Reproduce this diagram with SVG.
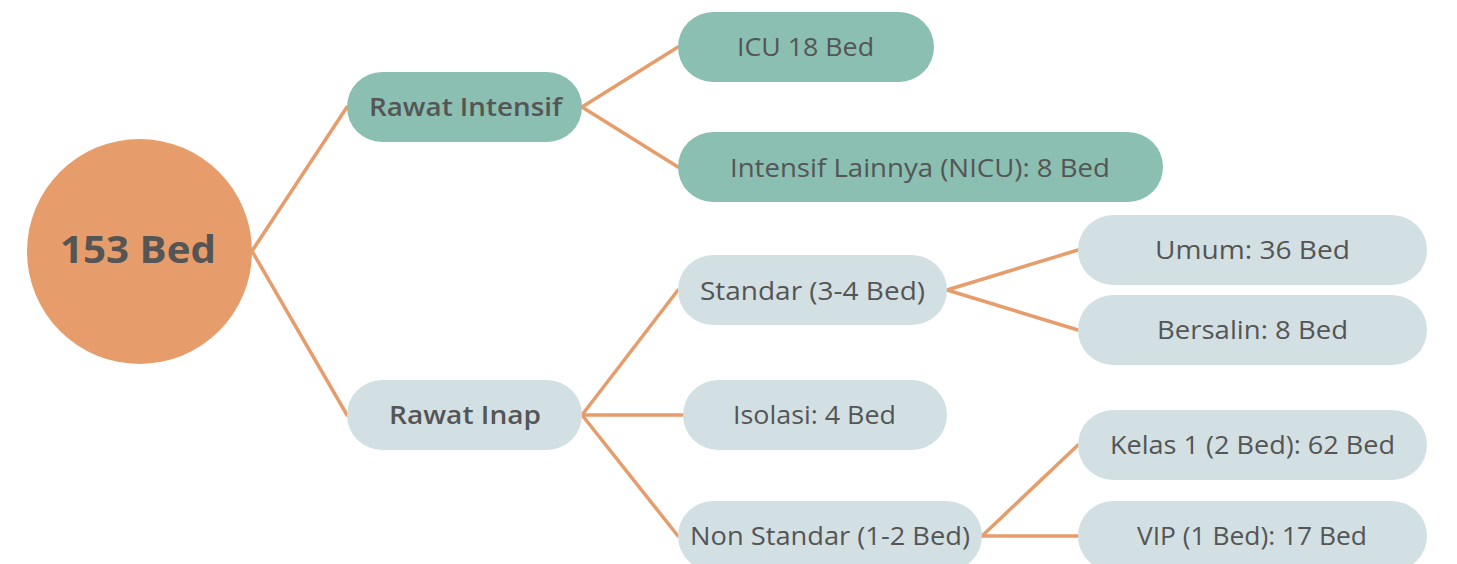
<svg xmlns="http://www.w3.org/2000/svg" width="1457" height="564" viewBox="0 0 1457 564">
<style>
.t{font-family:"Open Sans","DejaVu Sans",sans-serif;font-size:25px;fill:#555555;text-anchor:middle}
.b{font-weight:700}
.sb{font-weight:600}
.teal{fill:#8ABFB2}
.grey{fill:#D3E0E3}
.conn{stroke:#E69D6B;stroke-width:3.5;fill:none;stroke-linecap:round}
</style>
<rect width="1457" height="564" fill="#FFFFFF"/>
<g id="connectors" class="conn">
<path d="M252,251 L347,107"/>
<path d="M252,251 L347,415"/>
<path d="M582,107 L678,47"/>
<path d="M582,107 L678,167"/>
<path d="M582,415 L678,290"/>
<path d="M582,415 L683,415"/>
<path d="M582,415 L678,536"/>
<path d="M947,290 L1078,250"/>
<path d="M947,290 L1078,330"/>
<path d="M982,536 L1078,445"/>
<path d="M982,536 L1078,536"/>
</g>
<g id="root">
<circle cx="139.5" cy="251.5" r="112.5" fill="#E69D6B"/>
<text class="t b" x="138" y="263" style="font-size:38px" textLength="156" lengthAdjust="spacingAndGlyphs">153 Bed</text>
</g>
<g id="rawat-intensif">
<rect class="teal" x="347" y="72" width="235" height="70" rx="35"/>
<text class="t sb" x="465.5" y="116" textLength="193" lengthAdjust="spacingAndGlyphs">Rawat Intensif</text>
</g>
<g id="icu">
<rect class="teal" x="678" y="12" width="256" height="70" rx="35"/>
<text class="t" x="805.5" y="56" textLength="137" lengthAdjust="spacingAndGlyphs">ICU 18 Bed</text>
</g>
<g id="nicu">
<rect class="teal" x="678" y="132" width="485" height="70" rx="35"/>
<text class="t" x="920" y="177" textLength="380" lengthAdjust="spacingAndGlyphs">Intensif Lainnya (NICU): 8 Bed</text>
</g>
<g id="rawat-inap">
<rect class="grey" x="347" y="380" width="235" height="70" rx="35"/>
<text class="t sb" x="465" y="424" textLength="152" lengthAdjust="spacingAndGlyphs">Rawat Inap</text>
</g>
<g id="standar">
<rect class="grey" x="678" y="255" width="269" height="70" rx="35"/>
<text class="t" x="812.5" y="300" textLength="225" lengthAdjust="spacingAndGlyphs">Standar (3-4 Bed)</text>
</g>
<g id="isolasi">
<rect class="grey" x="683" y="380" width="264" height="70" rx="35"/>
<text class="t" x="814.5" y="424" textLength="163" lengthAdjust="spacingAndGlyphs">Isolasi: 4 Bed</text>
</g>
<g id="non-standar">
<rect class="grey" x="678" y="501" width="304" height="70" rx="35"/>
<text class="t" x="830" y="545" textLength="280" lengthAdjust="spacingAndGlyphs">Non Standar (1-2 Bed)</text>
</g>
<g id="umum">
<rect class="grey" x="1078" y="215" width="349" height="70" rx="35"/>
<text class="t" x="1252.5" y="259" textLength="195" lengthAdjust="spacingAndGlyphs">Umum: 36 Bed</text>
</g>
<g id="bersalin">
<rect class="grey" x="1078" y="295" width="349" height="70" rx="35"/>
<text class="t" x="1252.5" y="339" textLength="191" lengthAdjust="spacingAndGlyphs">Bersalin: 8 Bed</text>
</g>
<g id="kelas1">
<rect class="grey" x="1078" y="410" width="349" height="70" rx="35"/>
<text class="t" x="1252.5" y="454" textLength="285" lengthAdjust="spacingAndGlyphs">Kelas 1 (2 Bed): 62 Bed</text>
</g>
<g id="vip">
<rect class="grey" x="1078" y="501" width="349" height="70" rx="35"/>
<text class="t" x="1252" y="545" textLength="230" lengthAdjust="spacingAndGlyphs">VIP (1 Bed): 17 Bed</text>
</g>
</svg>
